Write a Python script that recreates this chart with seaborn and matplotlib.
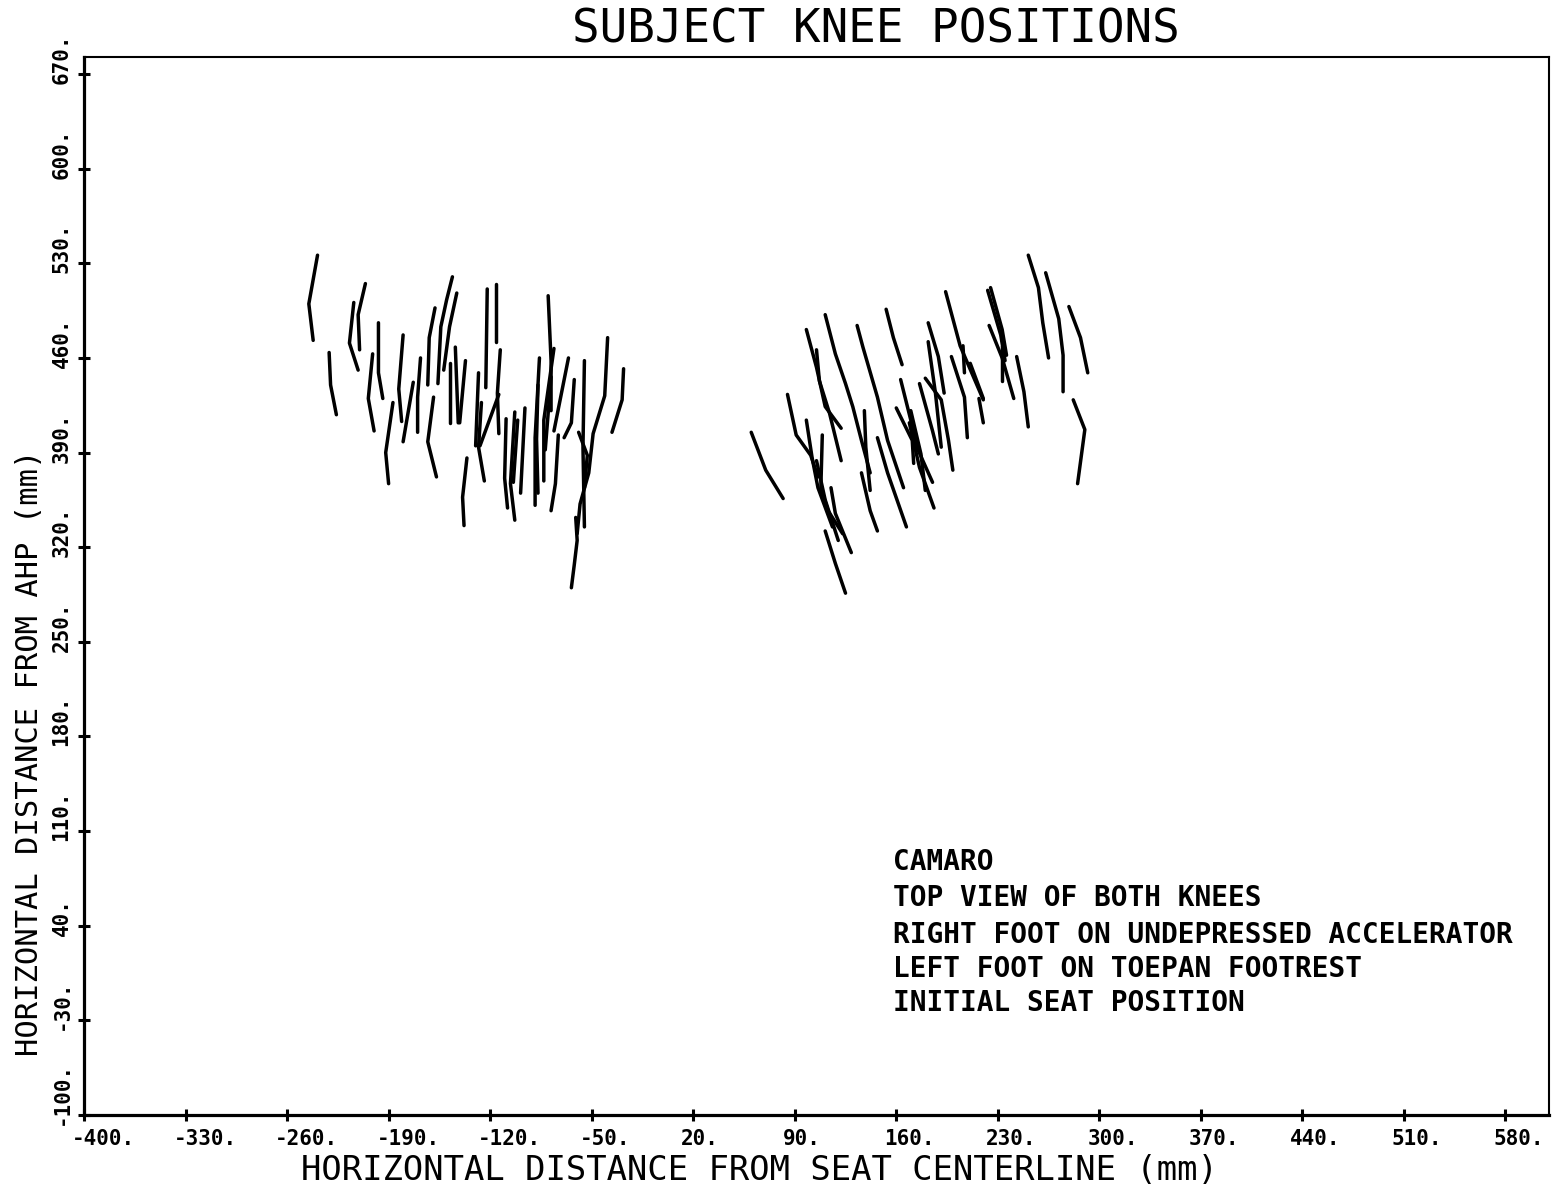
import numpy as np
import pandas as pd
import matplotlib
matplotlib.use("Agg")
import matplotlib.pyplot as plt
import matplotlib.transforms as mtransforms
import seaborn as sns

# ---------------- data (mm) ----------------
# Each knee trace is a short polyline of (horizontal from seat centerline, horizontal from AHP)
left_knee_paths = [
    [(-239, 536), (-245, 500), (-242, 473)],
    [(-231, 464), (-230, 440), (-226, 418)],
    [(-214, 501), (-217, 471), (-211, 451)],
    [(-206, 515), (-211, 492), (-210, 466)],
    [(-197, 486), (-197, 449), (-194, 430)],
    [(-201, 463), (-204, 430), (-200, 406)],
    [(-187, 427), (-192, 390), (-190, 367)],
    [(-180, 477), (-183, 437), (-181, 413)],
    [(-173, 442), (-180, 398)],
    [(-168, 460), (-170, 431), (-170, 405)],
    [(-146, 520), (-150, 503), (-154, 483), (-156, 441)],
    [(-158, 497), (-162, 475), (-163, 440)],
    [(-143, 508), (-148, 483), (-152, 451)],
    [(-159, 431), (-163, 398), (-157, 372)],
    [(-148, 456), (-148, 412)],
    [(-144, 468), (-142, 412)],
    [(-137, 458), (-141, 412)],
    [(-122, 511), (-123, 438)],
    [(-116, 515), (-116, 472)],
    [(-113, 466), (-115, 434), (-114, 404)],
    [(-128, 449), (-130, 395)],
    [(-126, 427), (-128, 394), (-124, 369)],
    [(-114, 433), (-127, 395)],
    [(-136, 386), (-139, 357), (-138, 336)],
    [(-109, 415), (-110, 371), (-108, 349)],
    [(-103, 420), (-106, 367), (-103, 340)],
    [(-101, 414), (-104, 368)],
    [(-96, 423), (-99, 360)],
    [(-80, 506), (-78, 458), (-78, 421)],
    [(-86, 460), (-89, 401), (-89, 351)],
    [(-87, 440), (-88, 400), (-87, 360)],
    [(-76, 467), (-83, 414), (-83, 369)],
    [(-78, 446), (-82, 392)],
    [(-66, 460), (-76, 406)],
    [(-62, 444), (-64, 412), (-69, 401)],
    [(-73, 403), (-75, 367), (-78, 347)],
    [(-55, 458), (-56, 394), (-55, 335)],
    [(-39, 475), (-41, 432), (-49, 404), (-52, 375), (-58, 352), (-60, 330)],
    [(-61, 342), (-60, 325), (-62, 307), (-64, 290)],
    [(-28, 452), (-29, 429), (-36, 405)],
    [(-59, 405), (-53, 388), (-55, 364)],
]

right_knee_paths = [
    [(60, 405), (70, 377), (82, 356)],
    [(85, 433), (91, 403), (101, 388), (106, 372)],
    [(98, 481), (105, 453), (111, 424), (122, 408)],
    [(105, 466), (107, 443), (114, 419), (122, 384)],
    [(111, 492), (118, 463), (125, 441), (130, 424), (136, 399), (142, 375)],
    [(136, 375), (142, 347), (147, 332)],
    [(133, 484), (137, 468), (147, 431), (154, 399), (165, 364)],
    [(153, 496), (158, 475), (164, 455)],
    [(163, 444), (170, 414), (175, 392), (185, 368)],
    [(160, 423), (171, 399), (172, 382)],
    [(170, 421), (177, 389), (180, 362)],
    [(169, 412), (176, 379), (186, 349)],
    [(176, 441), (185, 406), (189, 389)],
    [(182, 486), (189, 461), (193, 434)],
    [(182, 472), (187, 434), (191, 394)],
    [(180, 445), (191, 429), (196, 399), (199, 377)],
    [(194, 509), (204, 469), (220, 429)],
    [(198, 461), (207, 431), (209, 401)],
    [(206, 469), (207, 449)],
    [(217, 430), (220, 412)],
    [(211, 456), (220, 430)],
    [(223, 510), (232, 477), (235, 458)],
    [(225, 512), (233, 481), (236, 462)],
    [(224, 484), (233, 460), (241, 430)],
    [(233, 469), (233, 443)],
    [(243, 461), (248, 435), (251, 409)],
    [(251, 536), (258, 512), (261, 486), (265, 460)],
    [(263, 523), (272, 489), (275, 462), (275, 435)],
    [(279, 498), (287, 475), (292, 449)],
    [(282, 429), (290, 407), (285, 367)],
    [(98, 414), (102, 386), (106, 364), (116, 335)],
    [(109, 403), (108, 364), (113, 347), (123, 330)],
    [(105, 384), (111, 355), (120, 325)],
    [(115, 364), (118, 345), (129, 316)],
    [(111, 332), (118, 308), (125, 286)],
    [(138, 421), (139, 394), (142, 362)],
    [(147, 401), (154, 375), (167, 335)],
]

x_ticks = [-400, -330, -260, -190, -120, -50, 20, 90, 160, 230, 300, 370, 440, 510, 580]
y_ticks = [-100, -30, 40, 110, 180, 250, 320, 390, 460, 530, 600, 670]

title = "SUBJECT KNEE POSITIONS"
x_label = "HORIZONTAL DISTANCE FROM SEAT CENTERLINE (mm)"
y_label = "HORIZONTAL DISTANCE FROM AHP (mm)"
notes = ["CAMARO",
         "TOP VIEW OF BOTH KNEES",
         "RIGHT FOOT ON UNDEPRESSED ACCELERATOR",
         "LEFT FOOT ON TOEPAN FOOTREST",
         "INITIAL SEAT POSITION"]

# ---------------- long-form table ----------------
rows = []
sid = 0
for side, paths in (("left", left_knee_paths), ("right", right_knee_paths)):
    for p in paths:
        for k, (xv, yv) in enumerate(p):
            rows.append({"seg": sid, "order": k, "side": side, "x": xv, "y": yv})
        sid += 1
df = pd.DataFrame(rows)

# ---------------- plot ----------------
sns.set_theme(style="white")
plt.rcParams["font.family"] = ["DejaVu Sans Mono", "DejaVu Sans"]
plt.rcParams["text.color"] = "black"
plt.rcParams["axes.labelcolor"] = "black"
plt.rcParams["xtick.color"] = "black"
plt.rcParams["ytick.color"] = "black"

fig = plt.figure(figsize=(15.56, 11.91), dpi=100)
ax = fig.add_axes([84 / 1556, 1 - 1115 / 1191, (1549 - 84) / 1556, (1115 - 57) / 1191])

sns.lineplot(data=df, x="x", y="y", units="seg", estimator=None, sort=False,
             color="black", linewidth=2.5, ax=ax, legend=False)

ax.set_xlim(-400, 610)
ax.set_ylim(-100, 682.6)
ax.set_xlabel("")
ax.set_ylabel("")

for s in ("left", "bottom"):
    ax.spines[s].set_linewidth(2.3)
for s in ("top", "right"):
    ax.spines[s].set_linewidth(1.5)
for s in ax.spines.values():
    s.set_color("black")

ax.set_xticks(x_ticks)
ax.set_yticks(y_ticks)
ax.set_xticklabels([f"{v}." for v in x_ticks])
ax.set_yticklabels([f"{v}." for v in y_ticks])
ax.tick_params(axis="both", direction="inout", length=8, width=2.2, colors="black",
               labelsize=15, bottom=True, left=True, top=False, right=False)
ax.tick_params(axis="x", pad=6)
ax.tick_params(axis="y", pad=5, labelrotation=90)

dx = mtransforms.ScaledTranslation(-12 / 100, 0, fig.dpi_scale_trans)
for lab in ax.get_xticklabels():
    lab.set_ha("left")
    lab.set_fontweight("bold")
    lab.set_color("black")
    lab.set_transform(lab.get_transform() + dx)
dy = mtransforms.ScaledTranslation(0, -10 / 100, fig.dpi_scale_trans)
for lab in ax.get_yticklabels():
    lab.set_va("bottom")
    lab.set_fontweight("bold")
    lab.set_color("black")
    lab.set_transform(lab.get_transform() + dy)

fig.text(876 / 1556, 1 - 30 / 1191, title, fontsize=33, ha="center", va="center",
         color="black")
fig.text(759 / 1556, 1 - 1171 / 1191, x_label, fontsize=24.4, ha="center", va="center",
         color="black")
fig.text(30 / 1556, 1 - 753 / 1191, y_label, fontsize=22, ha="center", va="center",
         rotation=90, color="black")

note_y = [862, 898, 935, 969, 1003]
for t, py in zip(notes, note_y):
    ax.text((893 - 84) / (1549 - 84), (1115 - py) / (1115 - 57), t,
            transform=ax.transAxes, fontsize=20, ha="left", va="center",
            fontweight="bold", color="black")

fig.savefig("out.png", dpi=100, facecolor="white")
